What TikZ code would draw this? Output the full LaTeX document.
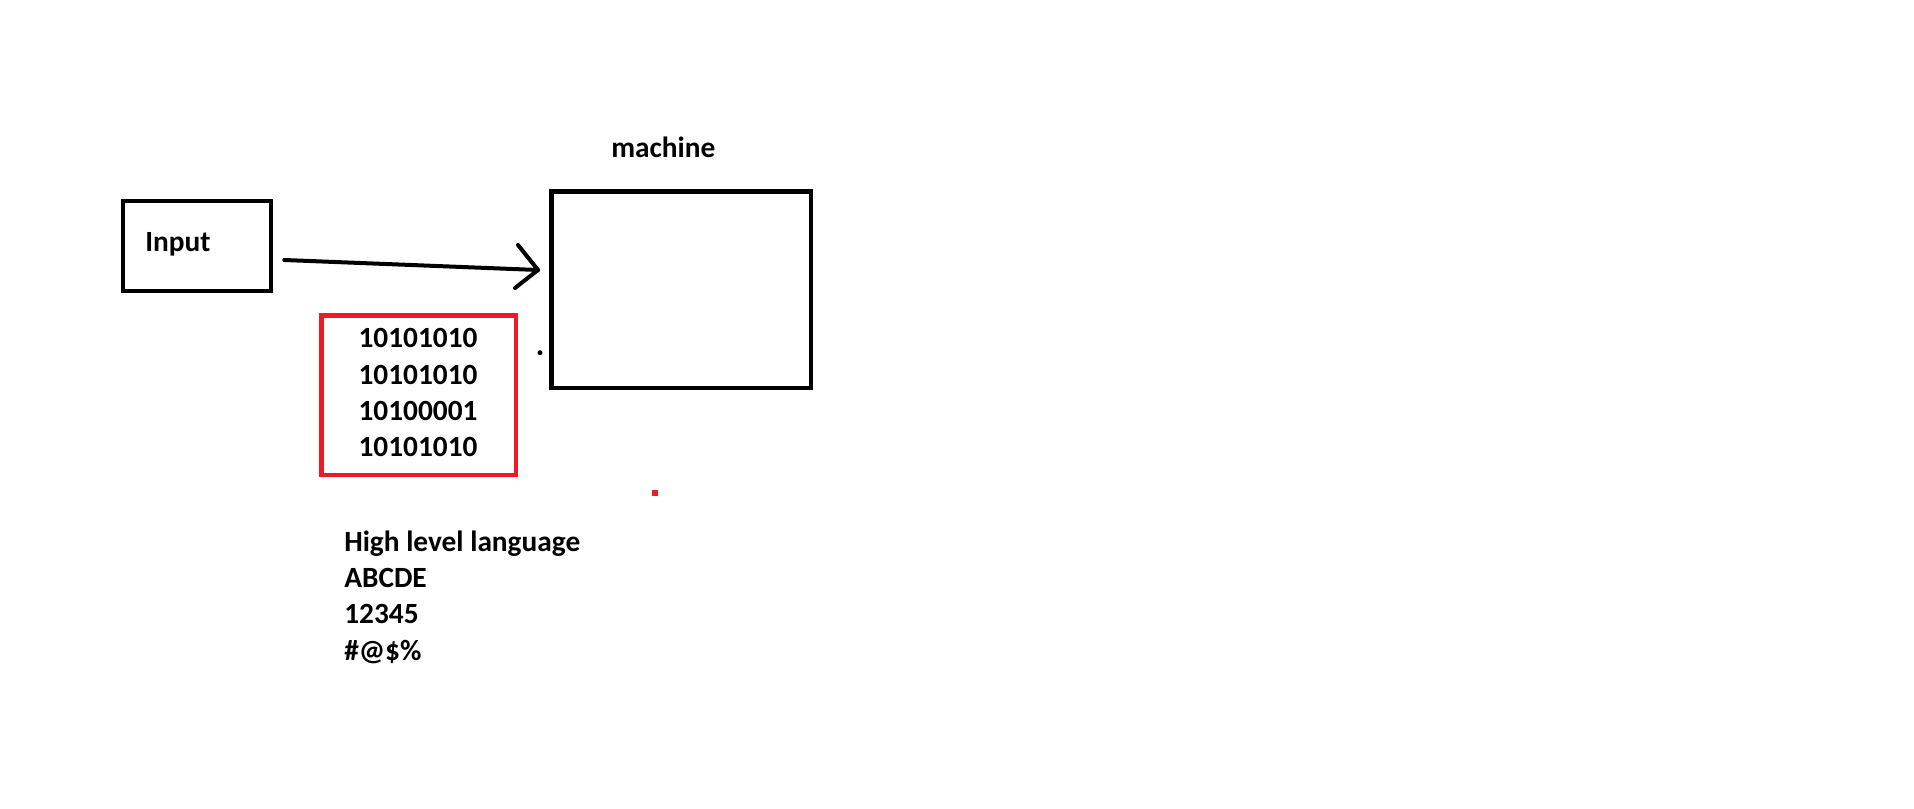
\documentclass[tikz,border=0pt]{standalone}
\usepackage{fontspec}
\setmainfont{Carlito}
\definecolor{paintred}{RGB}{237,28,36}
\begin{document}
\begin{tikzpicture}[x=0.75pt,y=-0.75pt,
  box/.style={draw=black,line width=3.4pt,minimum width=#1,inner sep=0pt},
  lbl/.style={font=\fontsize{22pt}{27pt}\selectfont\bfseries,inner sep=0pt,anchor=base west},
  bin/.style={font=\fontsize{22pt}{27pt}\selectfont\bfseries,inner sep=0pt,anchor=base},
  conn/.style={line width=3pt,line cap=round,line join=round}]
\useasboundingbox[fill=white] (0,0) rectangle (1914,809);
% boxes
\node[draw=black,line width=3.4pt,inner sep=0pt,minimum width=111pt,minimum height=67.5pt] (in) at (197,246) {};
\node[draw=black,line width=3.5pt,inner sep=0pt,minimum width=194.5pt,minimum height=147.2pt] (machine) at (681.35,289.85) {};
\node[draw=paintred,line width=3.4pt,inner sep=0pt,minimum width=145.7pt,minimum height=119.6pt] (code) at (418.85,395.25) {};
% labels
\node[lbl] (inlbl) at (145,251.7) {Input};
\node[lbl] (mlbl) at (611,157.3) {machine};
\node[bin] (b1) at (418,347.7) {10101010};
\node[bin] (b2) at (418,384) {10101010};
\node[bin] (b3) at (418,420.7) {10100001};
\node[bin] (b4) at (418,456.7) {10101010};
\node[lbl] (h1) at (344,551) {High level language};
\node[lbl] (h2) at (344,587.3) {ABCDE};
\node[lbl] (h3) at (344,623.3) {12345};
\node[lbl] (h4) at (344,660) {\#@\$\%};
% connector
\coordinate (a1) at ([shift={(11,14)}]in.east);
\coordinate (tip) at ([shift={(-143.35,-19.85)}]machine.center);
\draw[conn] (a1) -- (tip);
\draw[conn] ([shift={(-20,-25)}]tip) -- (tip) -- ([shift={(-23,18)}]tip);
% dots
\fill[black] (540,352.7) circle[radius=2.5];
\fill[paintred] (652.3,489.5) rectangle (657.7,495.6);
\end{tikzpicture}
\end{document}
